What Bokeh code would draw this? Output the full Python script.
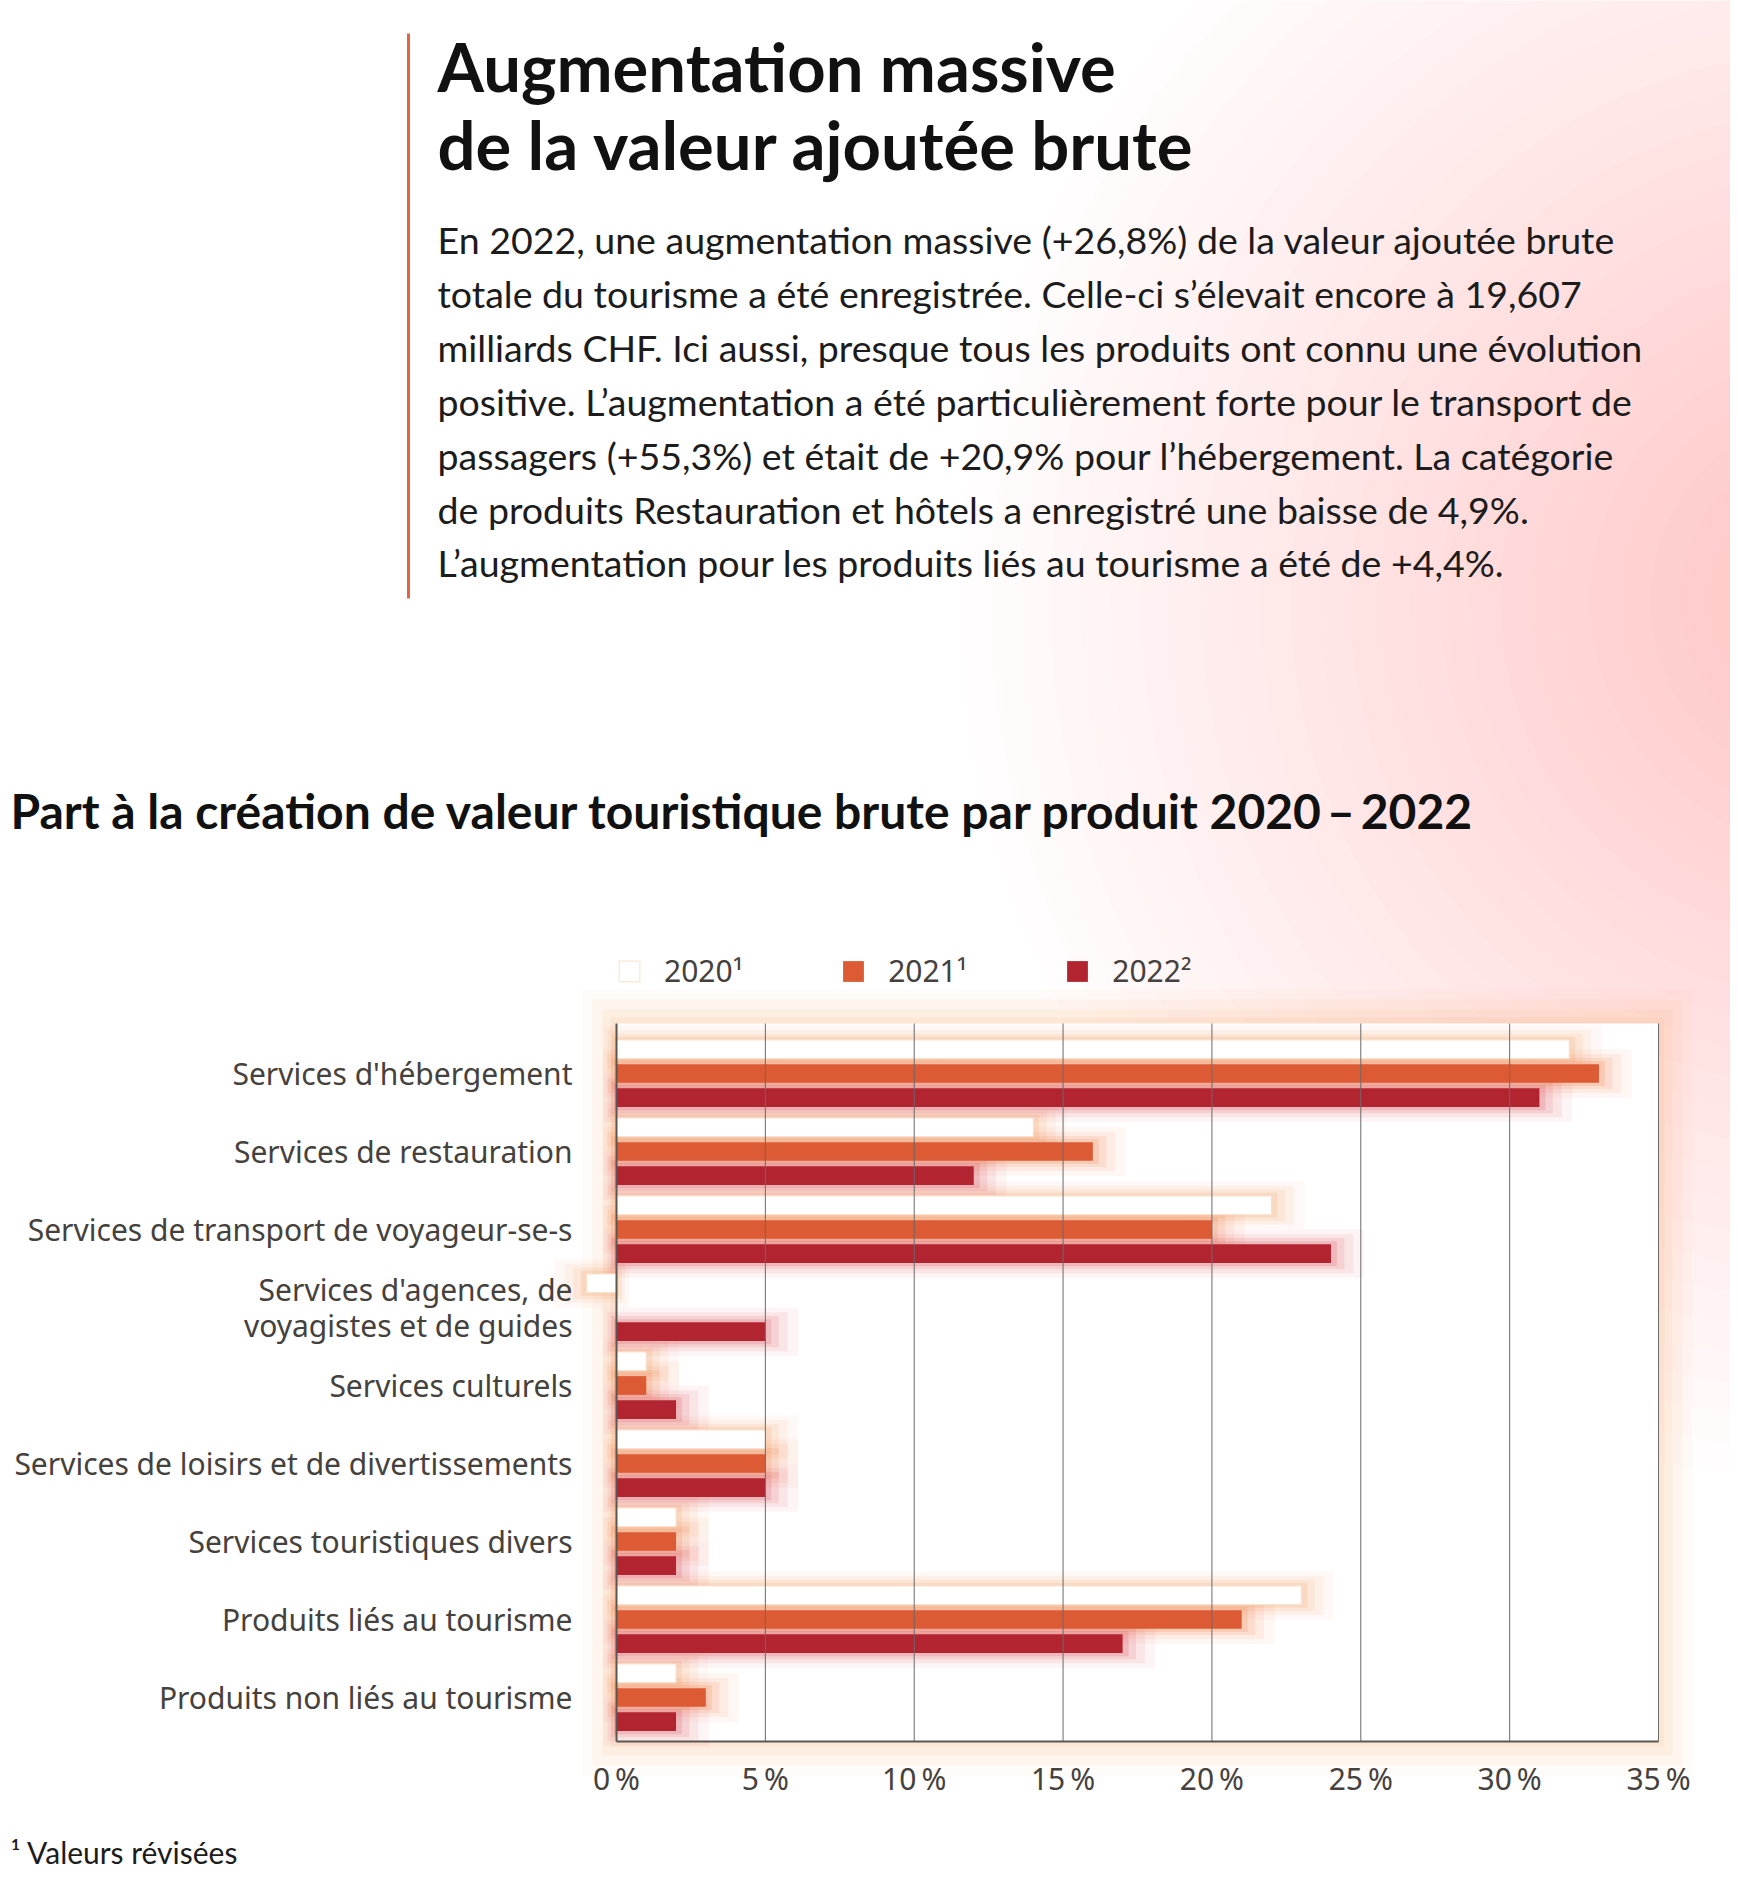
from bokeh.plotting import figure
from bokeh.models import Range1d, FixedTicker, Legend, LegendItem, ColumnDataSource, LinearAxis
from bokeh.embed import file_html
from bokeh.resources import INLINE
from bokeh.core.properties import value
from bokeh.transform import dodge

# ---------------- data ----------------
categories = [
    "Services d'hébergement",
    "Services de restauration",
    "Services de transport de voyageur-se-s",
    "Services d'agences, de\nvoyagistes et de guides",
    "Services culturels",
    "Services de loisirs et de divertissements",
    "Services touristiques divers",
    "Produits liés au tourisme",
    "Produits non liés au tourisme",
]
series_labels = ["2020\u00b9", "2021\u00b9", "2022\u00b2"]
share_2020 = [32, 14, 22, -1, 1, 5, 2, 23, 2]
share_2021 = [33, 16, 20, 0, 1, 5, 2, 21, 3]
share_2022 = [31, 12, 24, 5, 2, 5, 2, 17, 2]
x_ticks = [0, 5, 10, 15, 20, 25, 30, 35]
x_tick_labels = ["0\u202f%", "5\u202f%", "10\u202f%", "15\u202f%", "20\u202f%", "25\u202f%", "30\u202f%", "35\u202f%"]

headline = ["Augmentation massive", "de la valeur ajoutée brute"]
body_lines = [
    "En 2022, une augmentation massive (+26,8%) de la valeur ajoutée brute",
    "totale du tourisme a été enregistrée. Celle-ci s\u2019élevait encore à 19,607",
    "milliards CHF. Ici aussi, presque tous les produits ont connu une évolution",
    "positive. L\u2019augmentation a été particulièrement forte pour le transport de",
    "passagers (+55,3%) et était de +20,9% pour l\u2019hébergement. La catégorie",
    "de produits Restauration et hôtels a enregistré une baisse de 4,9%.",
    "L\u2019augmentation pour les produits liés au tourisme a été de +4,4%.",
]
chart_title = "Part à la création de valeur touristique brute par produit 2020\u2009\u2013\u20092022"
footnote = "\u00b9 Valeurs révisées"

# ---------------- layout / styles ----------------
W, H = 1730, 1870
TEXT_FONT = "Lato"
LABEL_FONT = "Noto Sans"
LABEL_COLOR = "#45413d"
bar_colors = ["#ffffff", "#dc5a34", "#b32431"]
glow_colors = ["#f4a062", "#ef7e45", "#d94a55"]
offsets = [-0.31, 0.0, 0.31]

# page-pixel geometry of the chart area
PCT0_X, PCT35_X = 616, 1658
PX_PCT = (PCT35_X - PCT0_X) / 35.0
CAT0_Y, PX_CAT = 1073, 78.0
FRAME_TOP_Y, FRAME_BOT_Y = 1023, 1741
cat_top = (FRAME_TOP_Y - CAT0_Y) / PX_CAT
cat_bot = (FRAME_BOT_Y - CAT0_Y) / PX_CAT

p = figure(width=W, height=H, x_range=Range1d(0, W), y_range=Range1d(H, 0),
           output_backend="svg", toolbar_location=None, x_axis_type=None, y_axis_type=None,
           min_border=0, title=None)
p.outline_line_color = None
p.background_fill_color = "white"
p.border_fill_color = "white"
p.grid.visible = False
p.extra_x_ranges = {"pct": Range1d((0 - PCT0_X) / PX_PCT, (W - PCT0_X) / PX_PCT)}
p.extra_y_ranges = {"cat": Range1d((H - CAT0_Y) / PX_CAT, (0 - CAT0_Y) / PX_CAT)}

# soft background glow (page pixels)
radii = list(range(880, 40, -30))
p.circle(x=[1840] * len(radii), y=[600] * len(radii), radius=radii,
         fill_color="#e99888", fill_alpha=0.017, line_color=None)

# header texts
p.segment(x0=[408], y0=[33], x1=[408], y1=[598], line_color="#e2673d", line_width=3)
p.text(x=[437, 437], y=[65, 143], text=headline, text_font=value(TEXT_FONT),
       text_font_style="bold", text_font_size="67px", text_color="#111111",
       text_baseline="alphabetic", text_align="left")
body_y = [239 + 53.9 * i for i in range(len(body_lines))]
p.text(x=[437] * len(body_lines), y=body_y, text=body_lines, text_font=value(TEXT_FONT),
       text_font_size="37.5px", text_color="#1c1c1c", text_baseline="alphabetic", text_align="left")
p.text(x=[10], y=[810], text=[chart_title], text_font=value(TEXT_FONT), text_font_style="bold",
       text_font_size="48px", text_color="#111111", text_baseline="alphabetic", text_align="left")
p.text(x=[10], y=[1869], text=[footnote], text_font=value(TEXT_FONT), text_font_size="30px",
       text_color="#1c1c1c", text_baseline="bottom", text_align="left")

# ---------------- chart ----------------
# peach halo around the plotting area, then white plotting area
for pad, a in ((34, 0.05), (24, 0.07), (14, 0.09), (6, 0.12)):
    p.quad(left=[x_ticks[0] - pad / PX_PCT], right=[x_ticks[-1] + pad / PX_PCT],
           top=[cat_top - pad / PX_CAT], bottom=[cat_bot + pad / PX_CAT],
           x_range_name="pct", y_range_name="cat", fill_color="#f7b071", fill_alpha=a, line_color=None)
p.quad(left=[x_ticks[0]], right=[x_ticks[-1]], top=[cat_top], bottom=[cat_bot],
       x_range_name="pct", y_range_name="cat", fill_color="white", line_color=None)

def glow_edges(vals, ext):
    left, right = [], []
    for v in vals:
        if v > 0:
            left.append(-ext * 0.4); right.append(v + ext)
        elif v < 0:
            left.append(ext * 0.4); right.append(v - ext)
        else:
            left.append(0); right.append(0)
    return left, right

data = dict(pos=list(range(len(categories))), s2020=share_2020, s2021=share_2021, s2022=share_2022)
glow_layers = [(1.1, 0.62, 0.06), (0.75, 0.50, 0.09), (0.45, 0.40, 0.13), (0.2, 0.32, 0.18)]
for key, vals in (("s2020", share_2020), ("s2021", share_2021), ("s2022", share_2022)):
    for j, (ext, h, a) in enumerate(glow_layers):
        l, r = glow_edges(vals, ext)
        data[f"{key}_gl{j}"] = l
        data[f"{key}_gr{j}"] = r
src = ColumnDataSource(data)

keys = ["s2020", "s2021", "s2022"]
for k, off, gc in zip(keys, offsets, glow_colors):
    for j, (ext, h, a) in enumerate(glow_layers):
        p.hbar(y=dodge("pos", off), left=f"{k}_gl{j}", right=f"{k}_gr{j}", height=h, source=src,
               x_range_name="pct", y_range_name="cat", fill_color=gc, fill_alpha=a, line_color=None)

renderers = []
for k, off, bc in zip(keys, offsets, bar_colors):
    r = p.hbar(y=dodge("pos", off), right=k, height=0.24, source=src,
               x_range_name="pct", y_range_name="cat",
               fill_color=bc, line_color="#f8e0cc" if bc == "#ffffff" else None, line_width=1)
    renderers.append(r)

# vertical grid lines on top of the bars
grid_x = x_ticks[1:]
p.segment(x0=grid_x, x1=grid_x, y0=[cat_top] * len(grid_x), y1=[cat_bot] * len(grid_x),
          x_range_name="pct", y_range_name="cat", line_color="#6a6a6a", line_width=1)

# axes
xax = LinearAxis(x_range_name="pct", y_range_name="cat", fixed_location=cat_bot,
                 ticker=FixedTicker(ticks=x_ticks, minor_ticks=[]),
                 major_label_overrides={t: l for t, l in zip(x_ticks, x_tick_labels)},
                 bounds=(x_ticks[0], x_ticks[-1]))
xax.axis_line_color = "#5a5652"
xax.axis_line_width = 2
xax.major_tick_line_color = None
xax.minor_tick_line_color = None
xax.major_label_standoff = 10
xax.major_label_text_font = LABEL_FONT
xax.major_label_text_font_size = "30px"
xax.major_label_text_color = LABEL_COLOR
p.add_layout(xax, "below")

yax = LinearAxis(x_range_name="pct", y_range_name="cat", fixed_location=0,
                 ticker=FixedTicker(ticks=list(range(len(categories))), minor_ticks=[]),
                 major_label_overrides={i: c for i, c in enumerate(categories)},
                 bounds=(cat_top, cat_bot))
yax.axis_line_color = "#5a5652"
yax.axis_line_width = 2
yax.major_tick_line_color = None
yax.minor_tick_line_color = None
yax.major_label_standoff = 38
yax.major_label_text_font = LABEL_FONT
yax.major_label_text_font_size = "30px"
yax.major_label_text_line_height = 0.88
yax.major_label_text_color = LABEL_COLOR
p.add_layout(yax, "left")

legend = Legend(items=[LegendItem(label=lab, renderers=[r]) for lab, r in zip(series_labels, renderers)],
                orientation="horizontal", location=(616, 879), margin=0, padding=0, spacing=97,
                glyph_width=26, glyph_height=26, label_standoff=22,
                label_text_font=LABEL_FONT, label_text_font_size="30px", label_text_color=LABEL_COLOR,
                border_line_color=None, background_fill_alpha=0)
p.add_layout(legend, "center")

open("out.html", "w").write(file_html(p, INLINE))
